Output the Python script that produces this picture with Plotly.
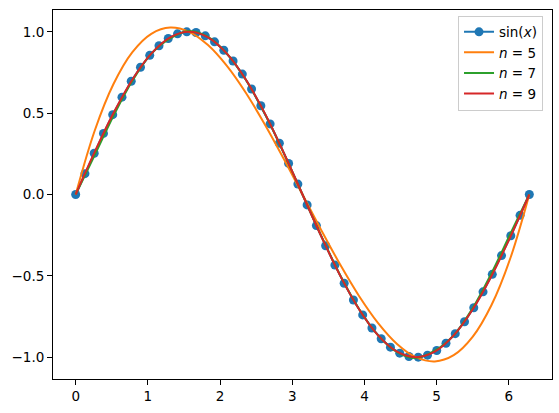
"""Sine samples and polynomial interpolants with n equally spaced nodes"""

import plotly.graph_objects as go

# 50 samples of sin(x) on [0, 2*pi]
x_samples = [
    0.0000, 0.1282, 0.2565, 0.3847, 0.5129, 0.6411, 0.7694, 0.8976, 1.0258, 1.1541,
    1.2823, 1.4105, 1.5387, 1.6670, 1.7952, 1.9234, 2.0517, 2.1799, 2.3081, 2.4363,
    2.5646, 2.6928, 2.8210, 2.9493, 3.0775, 3.2057, 3.3339, 3.4622, 3.5904, 3.7186,
    3.8469, 3.9751, 4.1033, 4.2315, 4.3598, 4.4880, 4.6162, 4.7445, 4.8727, 5.0009,
    5.1291, 5.2574, 5.3856, 5.5138, 5.6421, 5.7703, 5.8985, 6.0267, 6.1550, 6.2832,
]
sin_samples = [
    0.0000, 0.1279, 0.2537, 0.3753, 0.4907, 0.5981, 0.6957, 0.7818, 0.8551, 0.9145,
    0.9587, 0.9872, 0.9995, 0.9954, 0.9749, 0.9384, 0.8865, 0.8204, 0.7402, 0.6482,
    0.5455, 0.4339, 0.3151, 0.1912, 0.0641, -0.0641, -0.1912, -0.3151, -0.4339, -0.5455,
    -0.6482, -0.7402, -0.8204, -0.8865, -0.9384, -0.9749, -0.9954, -0.9995, -0.9872, -0.9587,
    -0.9145, -0.8551, -0.7818, -0.6957, -0.5981, -0.4907, -0.3753, -0.2537, -0.1279, 0.0000,
]

# interpolant curves, read on a grid of step pi/12
x_curve = [
    0.0000, 0.2618, 0.5236, 0.7854, 1.0472, 1.3090, 1.5708, 1.8326, 2.0944, 2.3562,
    2.6180, 2.8798, 3.1416, 3.4034, 3.6652, 3.9270, 4.1888, 4.4506, 4.7124, 4.9742,
    5.2360, 5.4978, 5.7596, 6.0214, 6.2832,
]
n5_values = [
    0.0000, 0.3904, 0.6790, 0.8750, 0.9877, 1.0262, 1.0000, 0.9182, 0.7901, 0.6250,
    0.4321, 0.2207, 0.0000, -0.2207, -0.4321, -0.6250, -0.7901, -0.9182, -1.0000, -1.0262,
    -0.9877, -0.8750, -0.6790, -0.3904, 0.0000,
]
n7_values = [
    0.0000, 0.2408, 0.4838, 0.6993, 0.8660, 0.9602, 1.0047, 0.9687, 0.8660, 0.7050,
    0.4973, 0.2570, 0.0000, -0.2570, -0.4973, -0.7050, -0.8660, -0.9687, -1.0047, -0.9602,
    -0.8660, -0.6993, -0.4838, -0.2408, 0.0000,
]
n9_values = [
    0.0000, 0.2600, 0.5006, 0.7071, 0.8658, 0.9658, 1.0000, 0.9660, 0.8661, 0.7071,
    0.5000, 0.2588, 0.0000, -0.2588, -0.5000, -0.7071, -0.8661, -0.9660, -1.0000, -0.9658,
    -0.8658, -0.7071, -0.5006, -0.2600, 0.0000,
]

x_ticks = [0, 1, 2, 3, 4, 5, 6]
y_ticks = [-1.0, -0.5, 0.0, 0.5, 1.0]

fig = go.Figure()
fig.add_trace(
    go.Scatter(
        x=x_samples,
        y=sin_samples,
        mode="lines+markers",
        name="sin(<i>x</i>)",
        line=dict(color="#1f77b4", width=2),
        marker=dict(color="#1f77b4", size=9),
    )
)
for name, values, color in [
    ("<i>n</i> = 5", n5_values, "#ff7f0e"),
    ("<i>n</i> = 7", n7_values, "#2ca02c"),
    ("<i>n</i> = 9", n9_values, "#d62728"),
]:
    fig.add_trace(
        go.Scatter(
            x=x_curve,
            y=values,
            mode="lines",
            name=name,
            line=dict(color=color, width=2, shape="spline", smoothing=1),
        )
    )

axis_style = dict(
    showgrid=False,
    zeroline=False,
    showline=True,
    linecolor="black",
    linewidth=1,
    mirror=True,
    ticks="outside",
    ticklen=5,
    tickcolor="black",
    tickfont=dict(size=13.5, color="black"),
)
fig.update_xaxes(range=[-0.3142, 6.5974], tickvals=x_ticks, **axis_style)
fig.update_yaxes(
    range=[-1.1339, 1.1339],
    tickvals=y_ticks,
    ticktext=[f"{v:.1f}".replace("-", "\u2212") for v in y_ticks],
    **axis_style,
)
fig.update_layout(
    width=559,
    height=413,
    margin=dict(l=53, r=7, t=10, b=34),
    plot_bgcolor="white",
    paper_bgcolor="white",
    font=dict(family="DejaVu Sans", size=13.5, color="black"),
    showlegend=True,
    legend=dict(
        x=0.982,
        y=0.985,
        xanchor="right",
        yanchor="top",
        bgcolor="rgba(255,255,255,0.8)",
        bordercolor="#cccccc",
        borderwidth=1,
        font=dict(size=13.5),
        tracegroupgap=0,
        itemwidth=30,
    ),
)
# drop the page's default body margin so the figure sits at the window corner
fig.write_html(
    "out.html",
    config={"displayModeBar": False},
    post_script="document.body.style.margin = '0';",
)
